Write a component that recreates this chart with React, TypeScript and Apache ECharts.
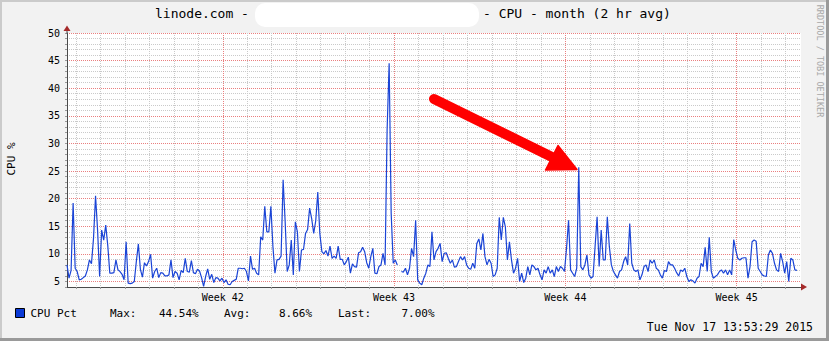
import React, { useEffect, useRef } from "react";
import * as echarts from "echarts";

// ---- data ----
// CPU % samples, one every 2 hours (null = gap in the data)
const CPU_PCT: (number | null)[] = [
  8.0, 5.6, 7.0, 19.2, 7.4, 6.8, 5.3, 5.4, 5.7, 6.0,
  7.1, 8.9, 8.2, 12.8, 20.5, 14.3, 5.9, 14.3, 12.5, 15.2,
  11.5, 6.5, 6.5, 6.6, 8.9, 7.1, 6.8, 6.3, 5.3, 12.2,
  4.7, 4.6, 4.7, 5.0, 8.6, 11.8, 7.2, 5.8, 8.4, 7.8,
  8.6, 9.9, 5.6, 6.8, 7.4, 5.7, 6.6, 6.5, 6.0, 6.0,
  6.2, 8.9, 5.7, 6.8, 6.5, 5.3, 7.0, 6.6, 9.2, 6.8,
  6.7, 8.8, 6.6, 6.4, 7.2, 6.9, 5.7, 4.1, 5.9, 7.3,
  5.4, 6.3, 4.8, 5.7, 5.6, 5.1, 5.6, 4.8, 5.3, 4.5,
  4.4, 5.0, 5.2, 5.4, 7.4, 7.4, 7.3, 7.4, 6.8, 5.1,
  9.6, 7.2, 7.4, 6.5, 6.2, 13.1, 12.5, 18.6, 14.0, 14.0,
  18.6, 11.3, 6.5, 8.9, 9.0, 9.6, 23.4, 15.8, 6.8, 8.0,
  12.5, 6.2, 15.8, 14.0, 6.8, 10.7, 10.8, 13.7, 14.4, 18.3,
  16.4, 13.7, 16.0, 21.2, 13.7, 10.4, 10.0, 10.6, 9.6, 11.4,
  9.2, 9.6, 9.2, 11.4, 9.0, 9.0, 8.0, 8.6, 9.4, 6.5,
  8.2, 7.7, 7.6, 10.2, 10.4, 11.2, 10.4, 8.4, 7.4, 9.5,
  11.0, 6.5, 6.4, 7.7, 8.0, 10.1, 8.0, 32.4, 44.54, 17.3,
  8.3, 8.9, 8.0, null, 6.8, 6.7, 7.4, 6.2, 7.4, 11.0,
  9.5, 16.1, 5.3, 4.7, 4.4, 5.6, 6.5, 8.0, 7.7, 14.0,
  8.9, 10.4, 11.0, 11.9, 8.6, 10.1, 10.2, 9.2, 8.3, 8.9,
  7.6, 7.7, 8.6, 9.5, 8.9, 9.5, 8.0, 7.4, 7.2, 8.3,
  7.4, 11.9, 12.7, 10.7, 13.7, 9.5, 8.0, 9.0, 8.3, 5.9,
  6.2, 7.4, 16.6, 12.5, 16.6, 14.9, 8.9, 12.2, 8.9, 6.5,
  7.4, 9.2, 5.0, 6.5, 4.8, 5.6, 7.7, 6.2, 8.0, 7.7,
  7.1, 7.4, 6.2, 5.3, 7.1, 6.5, 7.7, 6.5, 7.1, 5.9,
  7.7, 6.8, 7.7, 7.4, 6.8, 11.0, 16.1, 7.1, 6.5, 5.9,
  7.4, 25.7, 7.7, 7.1, 8.0, 9.8, 6.2, 5.6, 5.9, 11.3,
  16.7, 7.7, 14.3, 8.9, 8.9, 16.7, 11.3, 8.0, 6.8, 6.2,
  5.6, 6.8, 7.1, 8.6, 9.5, 8.0, 15.5, 8.3, 7.1, 6.8,
  7.1, 5.3, 6.2, 7.7, 8.0, 6.8, 8.9, 8.3, 8.9, 7.4,
  7.1, 6.2, 5.6, 7.0, 6.8, 8.6, 8.0, 8.0, 7.4, 6.6,
  6.0, 7.1, 6.8, 7.4, 5.9, 5.0, 5.3, 5.1, 4.7, 5.6,
  5.9, 8.3, 7.7, 11.2, 6.8, 13.0, 6.8, 5.6, 5.9, 6.2,
  6.8, 7.1, 6.5, 7.1, 6.2, 7.1, 6.2, 12.6, 10.7, 9.2,
  8.9, 9.2, 9.3, 9.3, 5.6, 7.7, 12.2, 12.5, 12.3, 7.4,
  6.8, 6.2, 6.0, 5.9, 9.8, 10.7, 10.1, 8.3, 7.1, 6.8,
  10.1, 8.6, 6.5, 8.6, 5.0, 9.2, 8.9, 7.1, 7.0,
];

// time, in days counted from the Monday before week 42
const DATA_START_DAY = 0.632;
const SAMPLE_STEP_DAYS = 2 / 24;
const SPAN_DAYS = 30;
const WEEK_LINE_DAYS = [7, 14, 21, 28];
const WEEK_LABELS = ["Week 42", "Week 43", "Week 44", "Week 45"];

const Y_MIN = 4;
const Y_MAX = 50;
const Y_LABEL_STEP = 5;

const TITLE_LEFT = "linode.com -";
const TITLE_RIGHT = "- CPU - month (2 hr avg)";
const Y_NAME = "CPU %";
const WATERMARK = "RRDTOOL / TOBI OETIKER";
const LEGEND_NAME = "CPU Pct";
const STAT_NAMES = ["Max:", "Avg:", "Last:"];
const STAT_VALUES = ["44.54%", "8.66%", "7.00%"];
const TIMESTAMP = "Tue Nov 17 13:53:29 2015";

const MONO = '"DejaVu Sans Mono", monospace';
const LINE_BLUE = "#1a44d6";
const GRID_GRAY = "#cacaca";
const GRID_RED = "#ea7f7f";
const AXIS_COLOR = "#4a4a4a";
const ARROW_RED = "#a52a2a";

function txt(x: number, y: number, text: string, size: number, opts: any = {}) {
  return {
    type: "text",
    x,
    y,
    z: 100,
    rotation: opts.rotation || 0,
    style: {
      text,
      fill: opts.fill || "#000",
      font: `${size}px ${MONO}`,
      textAlign: opts.align || "left",
      align: opts.align || "left",
      textVerticalAlign: "middle",
      verticalAlign: "middle",
    },
  };
}

export default function App() {
  const ref = useRef<HTMLDivElement>(null);

  useEffect(() => {
    if (!ref.current) return;
    const chart = echarts.init(ref.current, undefined, { renderer: "svg" });

    const xMin = DATA_START_DAY;
    const xMax = DATA_START_DAY + SPAN_DAYS;
    const seriesData = CPU_PCT.map((v, i) => [DATA_START_DAY + i * SAMPLE_STEP_DAYS, v]);

    const weekLabel = (v: number) => {
      const k = WEEK_LINE_DAYS.findIndex((d) => Math.abs(d - v) < 1e-6);
      return k >= 0 ? WEEK_LABELS[k] : "";
    };

    // split-line colours cycle per line: x lines start with the left edge,
    // then day 1, 2, ... so every 7th line (days 7, 14, ...) is a week line.
    const xLineColors = [GRID_RED, GRID_GRAY, GRID_GRAY, GRID_GRAY, GRID_GRAY, GRID_GRAY, GRID_GRAY];
    // y lines start at 4, then 5, 6, ... so 5, 10, 15 ... are major lines
    const yLineColors = [GRID_GRAY, GRID_RED, GRID_GRAY, GRID_GRAY, GRID_GRAY];

    const statX = [110, 224, 338];
    const valX = [159, 279, 401.5];

    const option: any = {
      animation: false,
      backgroundColor: "#f2f2f2",
      grid: {
        left: 67,
        right: 28,
        top: 33,
        bottom: 54,
        show: true,
        backgroundColor: "#ffffff",
        borderWidth: 0,
      },
      xAxis: {
        type: "value",
        min: xMin,
        max: xMax,
        minInterval: 1,
        maxInterval: 1,
        splitNumber: 30,
        axisLine: { show: true, lineStyle: { color: AXIS_COLOR, width: 1 } },
        axisTick: { show: true, length: 2, lineStyle: { color: "#9a9a9a" } },
        axisLabel: {
          show: true,
          showMinLabel: false,
          showMaxLabel: false,
          formatter: weekLabel,
          fontFamily: MONO,
          fontSize: 10,
          color: "#000",
          margin: 5,
        },
        splitLine: {
          show: true,
          showMinLine: true,
          showMaxLine: false,
          lineStyle: { color: xLineColors, width: 1, type: [1, 1] },
        },
      },
      yAxis: {
        type: "value",
        min: Y_MIN,
        max: Y_MAX,
        interval: 1,
        axisLine: { show: true, lineStyle: { color: AXIS_COLOR, width: 1 } },
        axisTick: { show: true, length: 2, lineStyle: { color: "#9a9a9a" } },
        axisLabel: {
          formatter: (v: number) => (v % Y_LABEL_STEP === 0 ? String(v) : ""),
          fontFamily: MONO,
          fontSize: 10,
          color: "#000",
          margin: 7,
        },
        splitLine: {
          show: true,
          showMinLine: true,
          lineStyle: { color: yLineColors, width: 1, type: [1, 1] },
        },
      },
      series: [
        {
          name: LEGEND_NAME,
          type: "line",
          data: seriesData,
          symbol: "none",
          showSymbol: false,
          connectNulls: false,
          lineStyle: { color: LINE_BLUE, width: 1.2 },
          z: 5,
        },
      ],
      graphic: [
        // frame
        { type: "rect", z: 100, shape: { x: 0, y: 0, width: 829, height: 2 }, style: { fill: "#cbcbcb" } },
        { type: "rect", z: 100, shape: { x: 0, y: 0, width: 2, height: 341 }, style: { fill: "#cbcbcb" } },
        { type: "rect", z: 100, shape: { x: 0, y: 338, width: 829, height: 3 }, style: { fill: "#9a9a9a" } },
        { type: "rect", z: 100, shape: { x: 826, y: 0, width: 3, height: 341 }, style: { fill: "#9a9a9a" } },
        // title
        txt(155, 13, TITLE_LEFT, 13),
        { type: "rect", z: 100, shape: { x: 255, y: 3, width: 224, height: 24, r: 10 }, style: { fill: "#ffffff" } },
        txt(483, 13, TITLE_RIGHT, 13),
        // watermark
        txt(820, 61, WATERMARK, 8.5, { rotation: -Math.PI / 2, align: "center", fill: "#a8a8a8" }),
        // y axis name
        txt(11, 159, Y_NAME, 11, { rotation: Math.PI / 2, align: "center" }),
        // axis arrows
        { type: "line", z: 100, shape: { x1: 67, y1: 30, x2: 67, y2: 33.5 }, style: { stroke: AXIS_COLOR, lineWidth: 1 } },
        { type: "polygon", z: 101, shape: { points: [[63.5, 31], [70.5, 31], [67, 25.5]] }, style: { fill: ARROW_RED } },
        { type: "polygon", z: 101, shape: { points: [[801, 283.5], [801, 290.5], [807, 287]] }, style: { fill: ARROW_RED } },
        // red annotation arrow
        {
          type: "line",
          z: 110,
          shape: { x1: 434, y1: 99, x2: 556, y2: 159 },
          style: { stroke: "#ff0000", lineWidth: 10, lineCap: "round" },
        },
        {
          type: "polygon",
          z: 110,
          shape: { points: [[545.5, 170], [558, 145.5], [577, 169.5]] },
          style: { fill: "#ff0000", stroke: "#ff0000", lineWidth: 1.5, lineJoin: "round" },
        },
        // legend
        {
          type: "rect",
          z: 100,
          shape: { x: 15.5, y: 308.5, width: 9, height: 9 },
          style: { fill: "#0a3ad6", stroke: "#000", lineWidth: 1 },
        },
        txt(30.5, 313.5, LEGEND_NAME, 11),
        ...STAT_NAMES.map((s, k) => txt(statX[k], 313.5, s, 11)),
        ...STAT_VALUES.map((s, k) => txt(valX[k], 313.5, s, 11)),
        // timestamp
        txt(813, 327, TIMESTAMP, 11.5, { align: "right" }),
      ],
    };

    chart.setOption(option);
    return () => chart.dispose();
  }, []);

  return (
    <div
      ref={ref}
      style={{ position: "fixed", left: 0, top: 0, width: 829, height: 341 }}
    />
  );
}
